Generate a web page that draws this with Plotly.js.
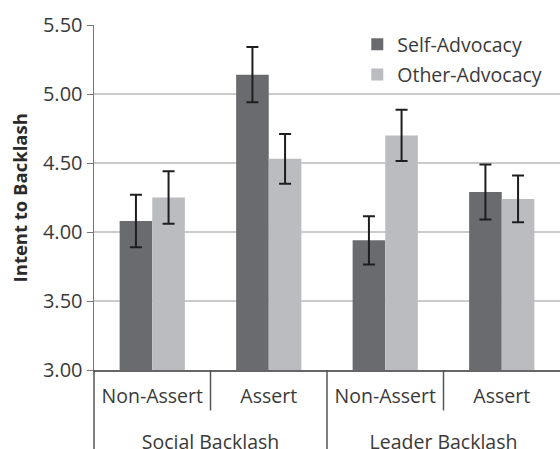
<!DOCTYPE html>
<html><head><meta charset="utf-8">
<script src="https://cdn.plot.ly/plotly-3.0.1.min.js"></script>
<style>html,body{margin:0;padding:0;background:#fff}</style>
</head><body><div id="chart" style="width:560px;height:449px"></div>
<script>
const groups = ["<br>Social Backlash", "<br>Social Backlash", "<br>Leader Backlash", "<br>Leader Backlash"];
const conditions = ["Non-Assert", "Assert", "Non-Assert", "Assert"];
const seriesNames = ["Self-Advocacy", "Other-Advocacy"];
const selfAdvocacy = [4.08, 5.14, 3.94, 4.29];
const selfErr = [0.19, 0.20, 0.175, 0.20];
const otherAdvocacy = [4.25, 4.53, 4.70, 4.24];
const otherErr = [0.19, 0.18, 0.185, 0.17];
const yTicks = [3.0, 3.5, 4.0, 4.5, 5.0, 5.5];
const yTitle = "Intent to Backlash";

const font = "Open Sans, Noto Sans, sans-serif";
const errStyle = {type: "data", visible: true, color: "#1e1e1e", thickness: 2, width: 6};

const traces = [
  {type: "bar", name: seriesNames[0], x: [groups, conditions], y: selfAdvocacy,
   marker: {color: "#6a6b6e"}, error_y: Object.assign({array: selfErr}, errStyle),
   legendgroup: "a"},
  {type: "bar", name: seriesNames[1], x: [groups, conditions], y: otherAdvocacy,
   marker: {color: "#bbbcbf"}, error_y: Object.assign({array: otherErr}, errStyle),
   legendgroup: "b"}
];

const divLine = {color: "#555", width: 1.5};
const layout = {
  width: 560, height: 449,
  margin: {l: 94, r: 0, t: 25, b: 79},
  paper_bgcolor: "#fff", plot_bgcolor: "#fff",
  barmode: "group", bargap: 0.44, bargroupgap: 0,
  font: {family: font, color: "#3a3a3a", size: 16},
  showlegend: true,
  legend: {x: 0.565, xanchor: "left", y: 1.0, yanchor: "top",
           bgcolor: "rgba(0,0,0,0)", font: {size: 19.5, color: "#3a3a3a"},
           traceorder: "grouped", tracegroupgap: 2},
  xaxis: {type: "multicategory", showgrid: false, zeroline: false,
          showline: true, linecolor: "#666", linewidth: 1.5,
          ticks: "", ticklabelstandoff: 8, tickfont: {size: 19.5, color: "#3a3a3a"},
          showdividers: false},
  yaxis: {range: [3, 5.5], tickvals: yTicks, tickformat: ".2f",
          showgrid: true, gridcolor: "#cbcbcb", gridwidth: 1.2,
          zeroline: false, showline: true, linecolor: "#777", linewidth: 1.5,
          ticks: "outside", ticklen: 6, tickcolor: "#777",
          tickfont: {size: 20, color: "#3a3a3a"}},
  annotations: [
    {text: "<b>" + yTitle + "</b>", textangle: -90, xref: "paper", yref: "paper",
     x: -0.159, y: 0.5, xanchor: "center", yanchor: "middle", showarrow: false,
     font: {size: 18.5, color: "#2a2a2a"}}
  ],
  shapes: [
    {type: "line", xref: "paper", yref: "paper", x0: 0, x1: 0, y0: 0, y1: -0.23, line: divLine},
    {type: "line", xref: "paper", yref: "paper", x0: 0.5, x1: 0.5, y0: 0, y1: -0.23, line: divLine},
    {type: "line", xref: "paper", yref: "paper", x0: 0.25, x1: 0.25, y0: 0, y1: -0.117, line: divLine},
    {type: "line", xref: "paper", yref: "paper", x0: 0.75, x1: 0.75, y0: 0, y1: -0.117, line: divLine}
  ]
};

Plotly.newPlot("chart", traces, layout, {displayModeBar: false, staticPlot: true});
</script></body></html>
